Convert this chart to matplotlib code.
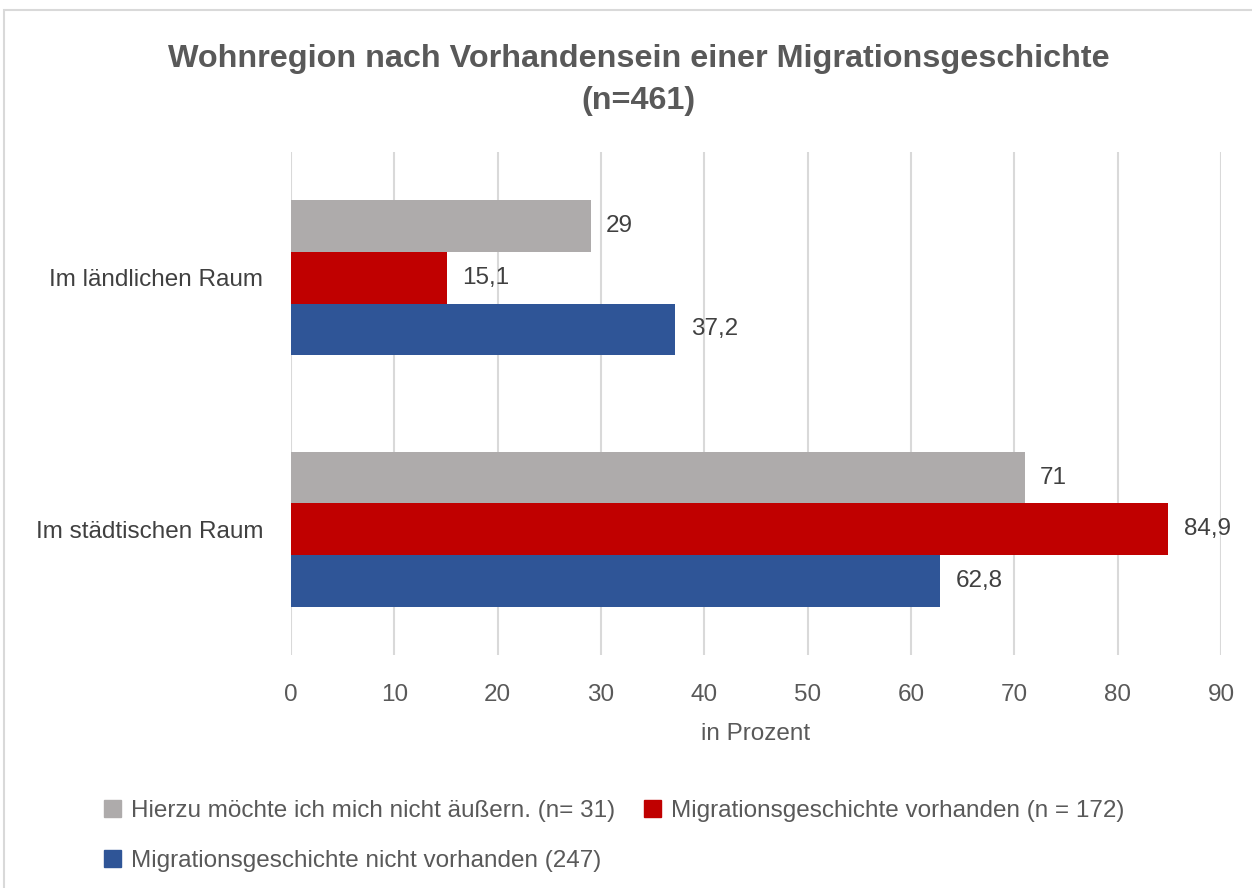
import matplotlib
matplotlib.use("Agg")
import numpy as np
import matplotlib.pyplot as plt
from matplotlib.patches import Rectangle, Patch

# data
categories = ["Im ländlichen Raum", "Im städtischen Raum"]
series_names = ["Hierzu möchte ich mich nicht äußern. (n= 31)",
                "Migrationsgeschichte vorhanden (n = 172)",
                "Migrationsgeschichte nicht vorhanden (247)"]
keine_angabe = [29, 71]
mit_migration = [15.1, 84.9]
ohne_migration = [37.2, 62.8]
colors = ["#AEABAB", "#C00000", "#2F5597"]
xticks = list(range(0, 100, 10))

plt.rcParams['font.family'] = ['Liberation Sans', 'DejaVu Sans']

fig = plt.figure(figsize=(12.52, 8.88), dpi=100)
W, H = 1252, 888
ax = fig.add_axes([291 / W, 1 - 655 / H, (1221 - 291) / W, (655 - 152) / H])

y = np.arange(len(categories))
h = 0.205
values = [keine_angabe, mit_migration, ohne_migration]
for i, (vals, col) in enumerate(zip(values, colors)):
    pos = y + (i - 1) * h
    ax.barh(pos, vals, height=h, color=col, zorder=3)
    for p, v in zip(pos, vals):
        lab = ("%g" % v).replace(".", ",")
        ax.text(v + 1.5, p, lab, va="center", ha="left", fontsize=17.5, color="#404040")

ax.set_ylim(1.5, -0.5)
ax.set_xlim(0, 90)
ax.set_xticks(xticks)
ax.set_xticklabels([str(t) for t in xticks], fontsize=17.5, color="#595959")
ax.set_yticks(y)
ax.set_yticklabels(categories, fontsize=17.5, color="#404040")
ax.tick_params(axis="both", length=0)
ax.tick_params(axis="x", pad=21)
ax.tick_params(axis="y", pad=20)
ax.grid(axis="x", color="#D9D9D9", linewidth=1.5, zorder=0)
for s in ax.spines.values():
    s.set_visible(False)
ax.set_xlabel("in Prozent", fontsize=17.5, color="#595959", labelpad=12)

fig.text(0.51, 1 - 80 / H, "Wohnregion nach Vorhandensein einer Migrationsgeschichte\n(n=461)",
         ha="center", va="center", fontsize=23.3, fontweight="bold", color="#595959",
         linespacing=1.5)

# legend: column-major order so the row layout matches
handles = [Patch(color=colors[0]), Patch(color=colors[2]), Patch(color=colors[1])]
labels = [series_names[0], series_names[2], series_names[1]]
fig.legend(handles, labels, ncol=2, loc="upper left", bbox_to_anchor=(82 / W, 1 - 778 / H),
           frameon=False, fontsize=17.5, labelcolor="#595959", handlelength=0.7,
           handleheight=0.7, handletextpad=0.4, columnspacing=1.2, labelspacing=1.15)

fig.patches.append(Rectangle((4 / W, -0.01), 1.0, 1 - 10 / H + 0.01, transform=fig.transFigure,
                             fill=False, edgecolor="#D9D9D9", linewidth=1.5))

fig.savefig("out.png", dpi=100, facecolor="white")
